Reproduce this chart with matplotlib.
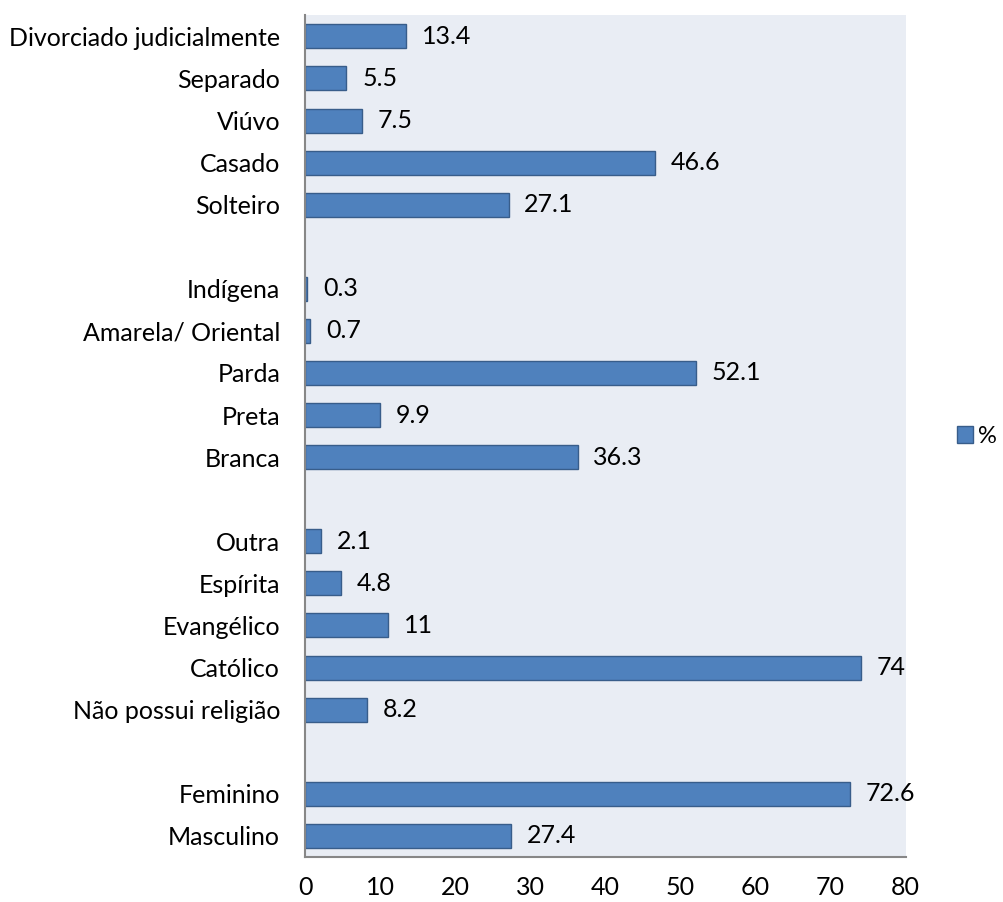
import matplotlib.pyplot as plt
import numpy as np

plt.rcParams['font.family'] = ['Lato', 'DejaVu Sans']

# categories top to bottom, None marks an empty row between groups
categories = ['Divorciado judicialmente', 'Separado', 'Viúvo', 'Casado', 'Solteiro', None,
              'Indígena', 'Amarela/ Oriental', 'Parda', 'Preta', 'Branca', None,
              'Outra', 'Espírita', 'Evangélico', 'Católico', 'Não possui religião', None,
              'Feminino', 'Masculino']
values = [13.4, 5.5, 7.5, 46.6, 27.1, None,
          0.3, 0.7, 52.1, 9.9, 36.3, None,
          2.1, 4.8, 11, 74, 8.2, None,
          72.6, 27.4]
xticks = [0, 10, 20, 30, 40, 50, 60, 70, 80]

n = len(categories)
ypos = np.arange(n)[::-1]

fig = plt.figure(figsize=(10.04, 9.02), dpi=100)
axe = fig.add_axes([0.304, 0.050, 0.598, 0.933])
axe.set_facecolor('#E9EDF4')

first = True
for y, cat, val in zip(ypos, categories, values):
    if val is None:
        continue
    axe.barh(y, val, height=0.57, color='#4F81BD', edgecolor='#385D8A', linewidth=1,
             label='%' if first else None)
    first = False
    axe.text(val + 2.1, y, f'{val:g}', va='center', ha='left', fontsize=18, color='black')

axe.set_yticks([y for y, c in zip(ypos, categories) if c is not None])
axe.set_yticklabels([c for c in categories if c is not None], fontsize=18)
axe.set_ylim(-0.5, n - 0.5)
axe.set_xlim(0, 80)
axe.set_xticks(xticks)
axe.set_xticklabels([str(t) for t in xticks], fontsize=18)
axe.tick_params(axis='both', length=0)
axe.tick_params(axis='x', pad=14)
axe.tick_params(axis='y', pad=18)

for s in ['top', 'right']:
    axe.spines[s].set_visible(False)
for s in ['left', 'bottom']:
    axe.spines[s].set_color('#878787')
    axe.spines[s].set_linewidth(1.5)

axe.legend(loc='center left', bbox_to_anchor=(1.085, 0.5), frameon=False, fontsize=17,
           handlelength=0.7, handleheight=0.7, handletextpad=0.2, borderpad=0,
           borderaxespad=0)

fig.savefig('out.png', dpi=100)
